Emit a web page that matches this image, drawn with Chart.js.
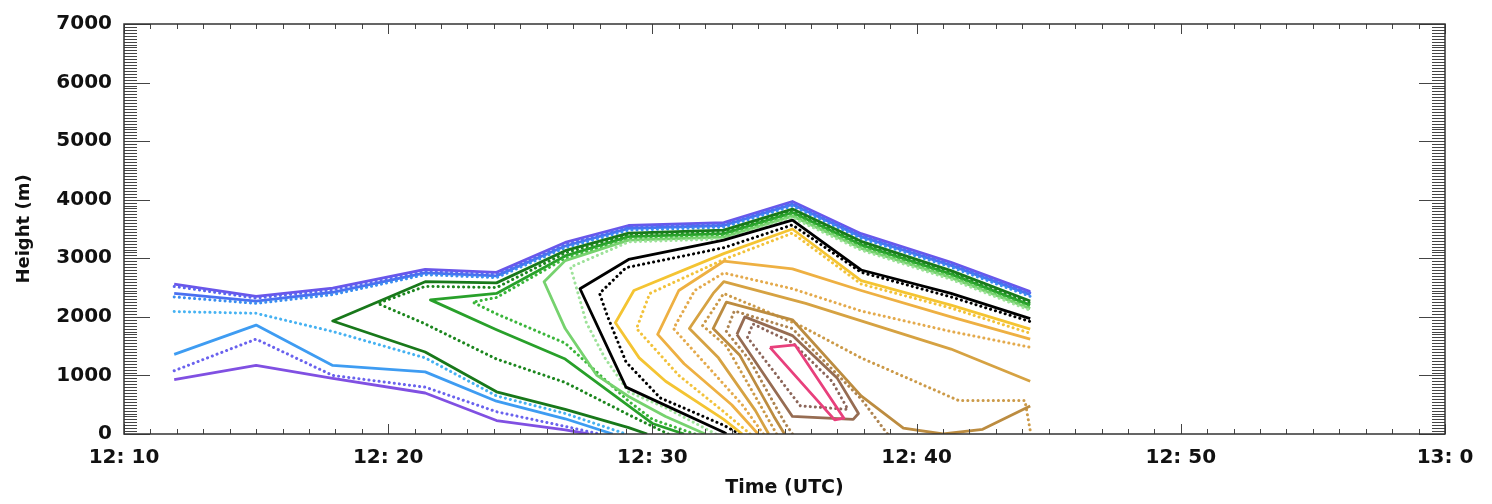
<!DOCTYPE html>
<html>
<head>
<meta charset="utf-8">
<script src="https://cdn.jsdelivr.net/npm/chart.js@4.4.1/dist/chart.umd.min.js"></script>
<style>
  html, body { margin: 0; padding: 0; background: #fff; }
  #wrap { width: 1492px; height: 504px; position: relative; }
</style>
</head>
<body>
<div id="wrap"><canvas id="chart"></canvas></div>
<script>
// axis ticks (time = minutes after 12:00 UTC)
const timeTicks  = [10, 20, 30, 40, 50, 60];
const timeLabels = ['12: 10', '12: 20', '12: 30', '12: 40', '12: 50', '13: 0'];
const heightTicks = [0, 1000, 2000, 3000, 4000, 5000, 6000, 7000];

// contour lines, [time, height m]
const purpleTop  = [[11.9,2560],[15.0,2350],[17.9,2490],[21.4,2810],[24.1,2760],[26.7,3270],[29.1,3560],[32.7,3610],[35.3,3970],[37.9,3420],[41.3,2930],[44.3,2430]];
const purpleLow  = [[11.9,930],[15.0,1170],[17.9,950],[21.4,700],[24.1,230],[26.7,70],[27.6,0]];
const blueDotTop = [[11.9,2520],[15.0,2320],[17.9,2460],[21.4,2780],[24.1,2730],[26.7,3240],[29.1,3540],[32.7,3590],[35.3,3950],[37.9,3400],[41.3,2910],[44.3,2410]];
const blueDotLow = [[11.9,1080],[15.0,1620],[17.9,1000],[21.4,800],[24.1,380],[26.7,130],[28.0,0]];
const skyTop     = [[11.9,2400],[15.0,2270],[17.9,2420],[21.4,2750],[24.1,2700],[26.7,3210],[29.1,3510],[32.7,3560],[35.3,3920],[37.9,3370],[41.3,2880],[44.3,2380]];
const skyLow     = [[11.9,1360],[15.0,1860],[17.9,1170],[21.4,1060],[24.1,560],[26.7,260],[28.5,0]];
const skyDotTop  = [[11.9,2340],[15.0,2230],[17.9,2380],[21.4,2720],[24.1,2670],[26.7,3180],[29.1,3480],[32.7,3530],[35.3,3890],[37.9,3340],[41.3,2850],[44.3,2350]];
const skyDotLow  = [[11.9,2090],[15.0,2060],[17.9,1750],[21.4,1300],[24.1,650],[26.7,350],[29.0,0]];
const dkGreen    = [[29.8,0],[29.1,110],[26.7,420],[24.1,720],[21.4,1400],[17.9,1930],[21.4,2600],[24.1,2580],[26.7,3130],[29.1,3430],[32.7,3480],[35.3,3840],[37.9,3290],[41.3,2790],[44.3,2270]];
const dkGreenDot = [[30.6,0],[29.1,330],[26.7,880],[24.1,1280],[21.4,1880],[19.6,2230],[21.4,2520],[24.1,2500],[26.7,3090],[29.1,3400],[32.7,3450],[35.3,3810],[37.9,3260],[41.3,2760],[44.3,2240]];
const green      = [[31.2,0],[30.0,180],[29.1,480],[26.7,1280],[24.1,1780],[21.6,2290],[24.1,2400],[26.7,3040],[29.1,3370],[32.7,3420],[35.3,3780],[37.9,3230],[41.3,2730],[44.3,2200]];
const greenDot   = [[31.6,0],[30.0,250],[29.1,560],[26.7,1550],[24.1,2050],[23.2,2250],[24.1,2330],[26.7,3000],[29.1,3340],[32.7,3390],[35.3,3750],[37.9,3200],[41.3,2700],[44.3,2170]];
const ltGreen    = [[32.0,0],[30.5,300],[29.1,640],[27.9,1000],[26.7,1800],[25.9,2600],[26.7,2960],[29.1,3310],[32.7,3360],[35.3,3720],[37.9,3170],[41.3,2670],[44.3,2140]];
const ltGreenDot = [[32.4,0],[30.5,450],[29.1,720],[28.2,1300],[27.5,1900],[26.9,2850],[29.1,3280],[32.7,3330],[35.3,3690],[37.9,3140],[41.3,2640],[44.3,2110]];
const black      = [[32.8,0],[32.7,30],[29.0,800],[27.26,2480],[29.1,2980],[32.7,3310],[35.3,3650],[37.9,2800],[41.3,2400],[44.3,1970]];
const blackDot   = [[33.3,0],[32.7,150],[30.3,615],[29.0,1230],[28.3,2010],[28.0,2400],[29.0,2840],[32.7,3180],[35.3,3570],[37.9,2760],[41.3,2340],[44.3,1920]];
const yellow     = [[33.4,0],[32.7,250],[30.5,900],[29.5,1300],[28.6,1900],[29.3,2450],[32.7,3080],[35.3,3500],[37.9,2620],[41.3,2200],[44.3,1790]];
const yellowDot  = [[33.7,0],[32.7,380],[31.0,1000],[29.4,1800],[29.9,2400],[32.7,2980],[35.3,3430],[37.9,2560],[41.3,2150],[44.3,1720]];
const orange     = [[34.0,0],[33.0,500],[31.2,1200],[30.2,1700],[31.0,2450],[32.7,2950],[35.3,2820],[37.9,2450],[41.3,2000],[44.3,1620]];
const orangeDot  = [[34.2,0],[33.4,500],[31.8,1300],[30.8,1800],[31.6,2450],[32.7,2750],[35.3,2480],[37.9,2100],[41.3,1750],[44.3,1480]];
const ochre      = [[34.4,0],[33.9,400],[32.5,1300],[31.4,1800],[32.3,2400],[32.7,2600],[35.8,2230],[41.3,1450],[44.3,900]];
const ochreDot   = [[34.7,0],[34.2,400],[32.8,1500],[31.9,1850],[32.7,2400],[35.6,1850],[37.9,1300],[41.6,570],[44.1,570],[44.3,60]];
const tan        = [[35.0,0],[34.6,300],[33.3,1350],[32.3,1800],[32.8,2250],[35.3,1950],[37.9,650],[39.5,100],[41.0,0],[42.5,80],[44.3,480]];
const tanDot     = [[35.3,0],[35.0,200],[33.7,1250],[32.8,1750],[33.1,2100],[35.3,1800],[37.9,600],[38.9,0]];
const brown      = [[33.2,1700],[33.5,2000],[35.3,1680],[37.0,950],[37.8,350],[37.6,250],[35.3,300],[33.2,1700]];
const brownDot   = [[33.6,1650],[33.8,1880],[35.3,1560],[36.8,900],[37.4,420],[35.6,480],[33.6,1650]];
const pink       = [[34.45,1480],[35.4,1520],[37.25,270],[36.9,240],[34.45,1480]];

const contours = [
  { pts: purpleLow,  color: '#8050e2', dotted: false },
  { pts: blueDotLow, color: '#6a62ee', dotted: true  },
  { pts: skyLow,     color: '#3e9cf2', dotted: false },
  { pts: skyDotLow,  color: '#46b2f2', dotted: true  },
  { pts: purpleTop,  color: '#6a56ea', dotted: false },
  { pts: blueDotTop, color: '#5a64f0', dotted: true  },
  { pts: skyTop,     color: '#4a70f0', dotted: false },
  { pts: skyDotTop,  color: '#3a8ef0', dotted: true  },
  { pts: dkGreen,    color: '#18781a', dotted: false },
  { pts: dkGreenDot, color: '#1c861e', dotted: true  },
  { pts: green,      color: '#28a02a', dotted: false },
  { pts: greenDot,   color: '#3ab53a', dotted: true  },
  { pts: ltGreen,    color: '#76d26e', dotted: false },
  { pts: ltGreenDot, color: '#9ee29a', dotted: true  },
  { pts: black,      color: '#000000', dotted: false },
  { pts: blackDot,   color: '#000000', dotted: true  },
  { pts: yellow,     color: '#f4c432', dotted: false },
  { pts: yellowDot,  color: '#f2c23a', dotted: true  },
  { pts: orange,     color: '#eeb042', dotted: false },
  { pts: orangeDot,  color: '#e4aa4c', dotted: true  },
  { pts: ochre,      color: '#d6a242', dotted: false },
  { pts: ochreDot,   color: '#cc9a48', dotted: true  },
  { pts: tan,        color: '#bc8c40', dotted: false },
  { pts: tanDot,     color: '#ae8450', dotted: true  },
  { pts: brown,      color: '#966c52', dotted: false },
  { pts: brownDot,   color: '#8c665a', dotted: true  },
  { pts: pink,       color: '#e8407c', dotted: false }
];

// box + inward ticks like the IDL frame
const framePlugin = {
  id: 'frame',
  afterDatasetsDraw(chart) {
    const { ctx, chartArea: a, scales: { x, y } } = chart;
    ctx.save();
    ctx.strokeStyle = '#444';
    ctx.lineWidth = 1;
    ctx.beginPath();
    for (let v = 0; v <= 7000; v += 50) {
      const py = Math.round(y.getPixelForValue(v)) + 0.5;
      const len = v % 1000 === 0 ? 26 : 13;
      ctx.moveTo(a.left, py);  ctx.lineTo(a.left + len, py);
      ctx.moveTo(a.right, py); ctx.lineTo(a.right - len, py);
    }
    for (let m = 10; m <= 60; m++) {
      const px = Math.round(x.getPixelForValue(m)) + 0.5;
      const len = m % 10 === 0 ? 10 : 5;
      ctx.moveTo(px, a.bottom); ctx.lineTo(px, a.bottom - len);
      ctx.moveTo(px, a.top);    ctx.lineTo(px, a.top + len);
    }
    ctx.stroke();
    ctx.strokeStyle = '#333';
    ctx.lineWidth = 1.5;
    ctx.strokeRect(a.left, a.top, a.right - a.left, a.bottom - a.top);
    ctx.restore();
  }
};

const tickFont = { family: 'DejaVu Sans', weight: 'bold', size: 20 };

new Chart(document.getElementById('chart'), {
  type: 'scatter',
  data: {
    datasets: contours.map((c, i) => ({
      data: c.pts.map(([t, h]) => ({ x: t, y: h })),
      showLine: true,
      borderColor: c.color,
      borderWidth: c.dotted ? 3 : 2.8,
      borderDash: c.dotted ? [0.1, 5] : [],
      borderCapStyle: c.dotted ? 'round' : 'butt',
      borderJoinStyle: 'round',
      pointRadius: 0,
      fill: false,
      tension: 0,
      order: -i
    }))
  },
  options: {
    responsive: true,
    maintainAspectRatio: false,
    animation: false,
    layout: { padding: { left: 0, right: 47, top: 13, bottom: 0 } },
    plugins: { legend: { display: false }, tooltip: { enabled: false } },
    scales: {
      x: {
        type: 'linear',
        min: timeTicks[0],
        max: timeTicks[timeTicks.length - 1],
        grid: { display: false, drawTicks: false },
        border: { display: false },
        afterBuildTicks: s => { s.ticks = timeTicks.map(v => ({ value: v })); },
        afterFit: s => { s.height = 70; },
        ticks: {
          padding: 12,
          color: '#111',
          font: tickFont,
          maxRotation: 0,
          callback: v => timeLabels[timeTicks.indexOf(v)]
        },
        title: {
          display: true,
          text: 'Time (UTC)',
          color: '#111',
          font: { family: 'DejaVu Sans', weight: 'bold', size: 19 },
          padding: { top: 0, bottom: 5 }
        }
      },
      y: {
        min: heightTicks[0],
        max: heightTicks[heightTicks.length - 1],
        grid: { display: false, drawTicks: false },
        border: { display: false },
        afterBuildTicks: s => { s.ticks = heightTicks.map(v => ({ value: v })); },
        afterFit: s => { s.width = 124; },
        ticks: { padding: 12, color: '#111', font: tickFont, callback: v => String(v) },
        title: {
          display: true,
          text: 'Height (m)',
          color: '#111',
          font: { family: 'DejaVu Sans', weight: 'bold', size: 18 },
          padding: { top: 14, bottom: 0 }
        }
      }
    }
  },
  plugins: [framePlugin]
});
</script>
</body>
</html>
